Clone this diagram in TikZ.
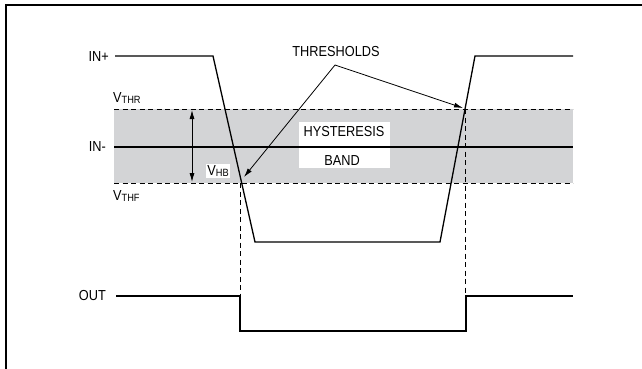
\documentclass[tikz,border=0pt]{standalone}
\usepackage{fontspec}
\setmainfont{Liberation Sans}[FakeStretch=0.88]
\usetikzlibrary{arrows.meta}
\definecolor{bandgray}{RGB}{211,212,214}
\newcommand{\lowsub}[1]{\raisebox{-1.5pt}{\fontsize{10.5}{11}\selectfont #1}}

\begin{document}
\begin{tikzpicture}[x=1pt, y=-1pt, line width=1.3pt,
    lbl/.style={font=\fontsize{14.5}{16}\selectfont, inner sep=1.5pt},
    thrline/.style={dash pattern=on 5pt off 3.5pt, line width=0.9pt},
    tip/.style={-{Latex[length=9pt, width=5pt]}, line width=0.8pt}]
            \useasboundingbox (0, 0) rectangle (642, 369);

            % draw frame
            \draw[line width=1.6pt] (6, 369) -- (6, 5) -- (642, 5);

            % draw shaded hysteresis band
            \fill[bandgray] (114, 109) rectangle (573, 183);
            \draw[thrline] (114, 109) -- (573, 109);
            \draw[thrline] (114, 183) -- (573, 183);

            % white boxes for band labels
            \node[fill=white, minimum width=91pt, minimum height=46pt, inner sep=0pt] (bandbox) at (344.5, 145) {};
            \node[lbl, fill=white] (vhb) at (218, 171) {V\lowsub{HB}};

            % draw IN- line
            \draw (114, 147) -- (573, 147);

            % draw IN+ waveform
            \coordinate (a0) at (115,  56);
            \coordinate (a1) at (213,  56);
            \coordinate (a2) at (255, 242);
            \coordinate (a3) at (440, 242);
            \coordinate (a4) at (475,  56);
            \coordinate (a5) at (573,  56);
            \draw (a0) -- (a1) -- (a2) -- (a3) -- (a4) -- (a5);

            % draw OUT waveform
            \coordinate (o0) at (116, 296);
            \coordinate (o1) at (240, 296);
            \coordinate (o2) at (240, 331);
            \coordinate (o3) at (466, 331);
            \coordinate (o4) at (466, 296);
            \coordinate (o5) at (573, 296);
            \draw (o0) -- (o1) -- (o2) -- (o3) -- (o4) -- (o5);

            % draw dashed switching lines
            \draw[thrline] (240, 183) -- (o1);
            \draw[thrline] (465, 109) -- (465, 296);

            % draw V_HB double arrow
            \coordinate (hbtop) at (192, 110);
            \coordinate (hbbot) at (192, 182);
            \draw[tip, {Latex[length=9pt, width=5pt]}-{Latex[length=9pt, width=5pt]}] (hbtop) -- (hbbot);

            % draw labels
            \node[lbl, anchor=east] (inp)  at (111,  57) {IN+};
            \node[lbl, anchor=east] (inm)  at (108, 147) {IN-};
            \node[lbl, anchor=east] (out)  at (108, 296) {OUT};
            \node[lbl, anchor=west] (vthr) at (111,  98) {V\lowsub{THR}};
            \node[lbl, anchor=west] (vthf) at (111, 196) {V\lowsub{THF}};
            \node[lbl] (hyst)  at (344, 132) {HYSTERESIS};
            \node[lbl] (band)  at (342, 161) {BAND};
            \node[lbl] (thres) at (336,  52) {THRESHOLDS};

            % draw threshold pointers
            \coordinate (split) at (335,  65);
            \coordinate (tipL)  at (244, 177);
            \coordinate (tipR)  at (463, 108);
            \draw[tip] (split) -- (tipL);
            \draw[tip] (split) -- (tipR);
\end{tikzpicture}
\end{document}
